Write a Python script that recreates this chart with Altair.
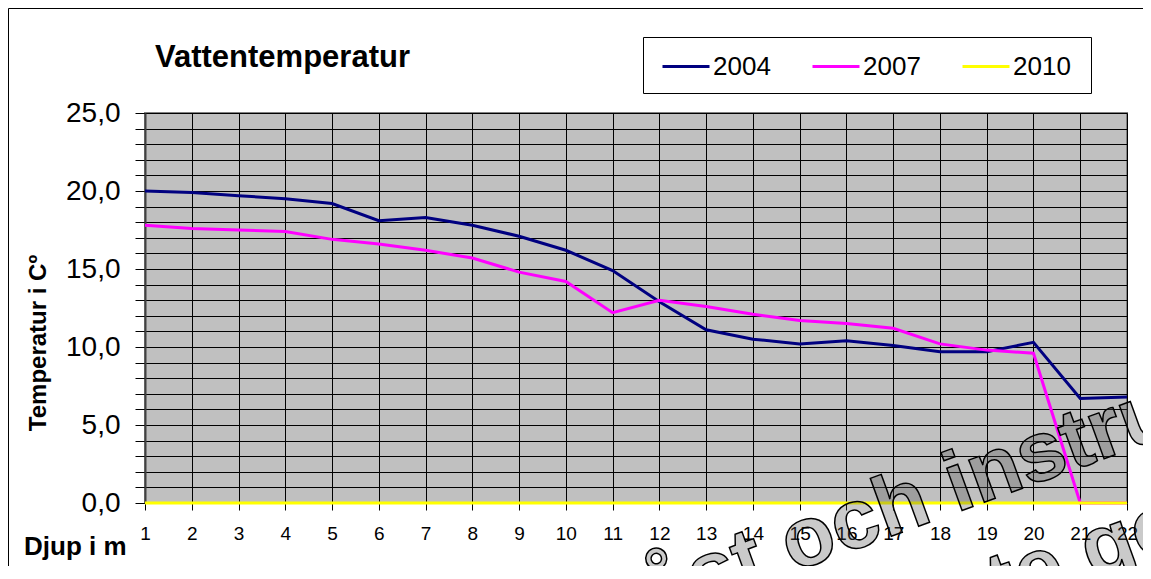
import altair as alt
import pandas as pd

# ---- data ----
depth = list(range(1, 23))
temp_2004 = [20.0, 19.9, 19.7, 19.5, 19.2, 18.1, 18.3, 17.8, 17.1, 16.2, 14.9,
             12.9, 11.1, 10.5, 10.2, 10.4, 10.1, 9.7, 9.7, 10.3, 6.7, 6.8]
temp_2007 = [17.8, 17.6, 17.5, 17.4, 16.9, 16.6, 16.2, 15.7, 14.8, 14.2, 12.2,
             13.0, 12.6, 12.1, 11.7, 11.5, 11.2, 10.2, 9.8, 9.6, 0.0, 0.0]
temp_2010 = [0.0] * 22
series_names = ["2004", "2007", "2010"]
series_colors = ["#000080", "#FF00FF", "#FFFF00"]

y_ticks = list(range(0, 26))
x_ticks = list(range(1, 23))

title_text = ["Vattentemperatur"]
x_title = ["Djup i m"]
y_title = ["Temperatur i C\u00ba"]
watermark_1 = ["L\u00e5st och instruerat"]
watermark_2 = ["inte godk\u00e4nd"]

FONT = "Liberation Sans"

rows = []
for name, vals in zip(series_names, [temp_2004, temp_2007, temp_2010]):
    for d, v in zip(depth, vals):
        rows.append({"Djup": d, "Temp": v, "Serie": name})
df = pd.DataFrame(rows)

W, H = 982, 390

x_scale = alt.Scale(domain=[1, 22], nice=False, zero=False)
y_scale = alt.Scale(domain=[0, 25], nice=False)

lines = alt.Chart(df).mark_line(strokeWidth=3, clip=False).encode(
    x=alt.X("Djup:Q", scale=x_scale,
            axis=alt.Axis(values=x_ticks, title=None, grid=True, gridColor="#000000",
                          gridOpacity=1, gridWidth=1, tickColor="#000000", tickSize=7,
                          labelFontSize=19, labelFont=FONT, labelColor="#000000",
                          labelPadding=14, domainColor="#404040", domainWidth=1,
                          labelFlush=False)),
    y=alt.Y("Temp:Q", scale=y_scale,
            axis=alt.Axis(values=y_ticks, title=None, grid=True, gridColor="#000000",
                          gridOpacity=1, gridWidth=1, tickColor="#000000", tickSize=10,
                          labelExpr="datum.value % 5 === 0 ? replace(format(datum.value, '.1f'), '.', ',') : ''",
                          labelFontSize=28, labelFont=FONT, labelColor="#000000",
                          labelPadding=15, domainColor="#404040", domainWidth=2,
                          labelFlush=False, labelOverlap=False)),
    color=alt.Color("Serie:N", scale=alt.Scale(domain=series_names, range=series_colors),
                    legend=alt.Legend(title=None, orient="none", legendX=516, legendY=-71.5,
                                      direction="horizontal", columns=3,
                                      padding=0, labelFontSize=26, labelFont=FONT,
                                      labelColor="#000000", symbolType="stroke",
                                      symbolSize=2209, symbolStrokeWidth=3,
                                      labelOffset=2, columnPadding=35)),
    order=alt.Order("Djup:Q"),
)

one = pd.DataFrame({"k": [0]})

frame = alt.Chart(one).mark_rect(fillOpacity=0, stroke="#000000", strokeWidth=1, clip=False).encode(
    x=alt.value(-136.5), x2=alt.value(1200), y=alt.value(-104.5), y2=alt.value(700)
)

legend_box = alt.Chart(one).mark_rect(fill="#FFFFFF", stroke="#000000", strokeWidth=1, clip=False).encode(
    x=alt.value(498.5), x2=alt.value(946.5), y=alt.value(-75.5), y2=alt.value(-19.5)
)

title = alt.Chart(pd.DataFrame({"t": title_text})).mark_text(
    font=FONT, fontSize=31, fontWeight="bold", align="left", baseline="alphabetic", color="#000000"
).encode(text="t:N", x=alt.value(10), y=alt.value(-46))

xt = alt.Chart(pd.DataFrame({"t": x_title})).mark_text(
    font=FONT, fontSize=26, fontWeight="bold", align="left", baseline="alphabetic", color="#000000"
).encode(text="t:N", x=alt.value(-121), y=alt.value(442))

yt = alt.Chart(pd.DataFrame({"t": y_title})).mark_text(
    font=FONT, fontSize=24, fontWeight="bold", align="center", baseline="middle",
    angle=270, color="#000000"
).encode(text="t:N", x=alt.value(-106), y=alt.value(230))

wm1 = alt.Chart(pd.DataFrame({"t": watermark_1})).mark_text(
    font=FONT, fontSize=85, fontWeight="bold", align="left", baseline="alphabetic",
    angle=340, fill="#505050", fillOpacity=0.3, stroke="#000000", strokeWidth=1.5
).encode(text="t:N", x=alt.value(461), y=alt.value(527))

wm2 = alt.Chart(pd.DataFrame({"t": watermark_2})).mark_text(
    font=FONT, fontSize=85, fontWeight="bold", align="left", baseline="alphabetic",
    angle=340, fill="#505050", fillOpacity=0.3, stroke="#000000", strokeWidth=1.5
).encode(text="t:N", x=alt.value(783), y=alt.value(526))

chart = alt.layer(frame, legend_box, lines, title, xt, yt, wm1, wm2).properties(
    width=W, height=H,
    autosize=alt.AutoSizeParams(type="none"),
    padding={"left": 137, "top": 105, "right": 16, "bottom": 63},
    background="#FFFFFF",
).configure_view(
    fill="#C0C0C0", stroke="#808080", strokeWidth=2
)

chart.save("out.html", embed_options={"renderer": "svg", "actions": False})
